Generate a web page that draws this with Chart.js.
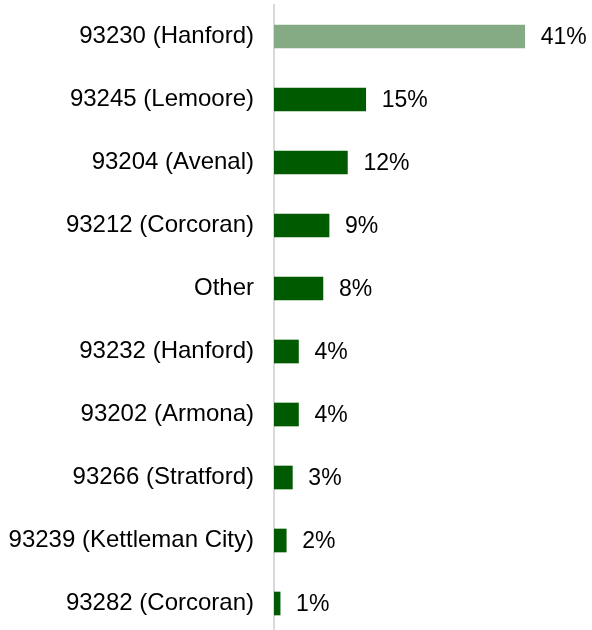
<!DOCTYPE html>
<html>
<head>
<meta charset="utf-8">
<script src="https://cdn.jsdelivr.net/npm/chart.js@4/dist/chart.umd.min.js"></script>
<style>
  html, body { margin: 0; padding: 0; background: #fff; overflow: hidden; }
  #wrap { position: relative; width: 592px; height: 635px; }
</style>
</head>
<body>
<div id="wrap"><canvas id="chart"></canvas></div>
<script>
// Share of residents by ZIP code area (percent)
const zipAreas = [
  '93230 (Hanford)',
  '93245 (Lemoore)',
  '93204 (Avenal)',
  '93212 (Corcoran)',
  'Other',
  '93232 (Hanford)',
  '93202 (Armona)',
  '93266 (Stratford)',
  '93239 (Kettleman City)',
  '93282 (Corcoran)'
];
const sharePct = [41, 15, 12, 9, 8, 4, 4, 3, 2, 1];

const FONT = 'Liberation Sans, Arial, sans-serif';
const LIGHT_GREEN = '#84ab84';
const DARK_GREEN = '#005a00';

// Value labels placed just past the end of each bar
const valueLabels = {
  id: 'valueLabels',
  afterDatasetsDraw(chart) {
    const ctx = chart.ctx;
    const meta = chart.getDatasetMeta(0);
    ctx.save();
    ctx.font = '23px ' + FONT;
    ctx.fillStyle = '#000';
    ctx.textAlign = 'left';
    ctx.textBaseline = 'middle';
    meta.data.forEach((bar, i) => {
      ctx.fillText(sharePct[i] + '%', bar.x + 16, bar.y + 1);
    });
    ctx.restore();
  }
};

new Chart(document.getElementById('chart'), {
  type: 'bar',
  data: {
    labels: zipAreas,
    datasets: [{
      data: sharePct,
      backgroundColor: sharePct.map((_, i) => i === 0 ? LIGHT_GREEN : DARK_GREEN),
      borderWidth: 0,
      barThickness: 23
    }]
  },
  options: {
    indexAxis: 'y',
    responsive: true,
    maintainAspectRatio: false,
    animation: false,
    layout: { padding: { top: 5, right: 0, bottom: 0, left: 0 } },
    plugins: {
      legend: { display: false },
      tooltip: { enabled: false }
    },
    scales: {
      x: {
        display: false,
        min: 0,
        max: 52
      },
      y: {
        afterFit(scale) {
          // fixed label column; no extra vertical room for the tick labels
          scale.width = 274;
          scale.paddingTop = 0;
          scale.paddingBottom = 0;
        },
        grid: { display: false, drawTicks: false },
        border: { display: true, color: '#d9d9d9', width: 2 },
        ticks: {
          padding: 20,
          color: '#000',
          font: { family: FONT, size: 24 }
        }
      }
    }
  },
  plugins: [valueLabels]
});
</script>
</body>
</html>
